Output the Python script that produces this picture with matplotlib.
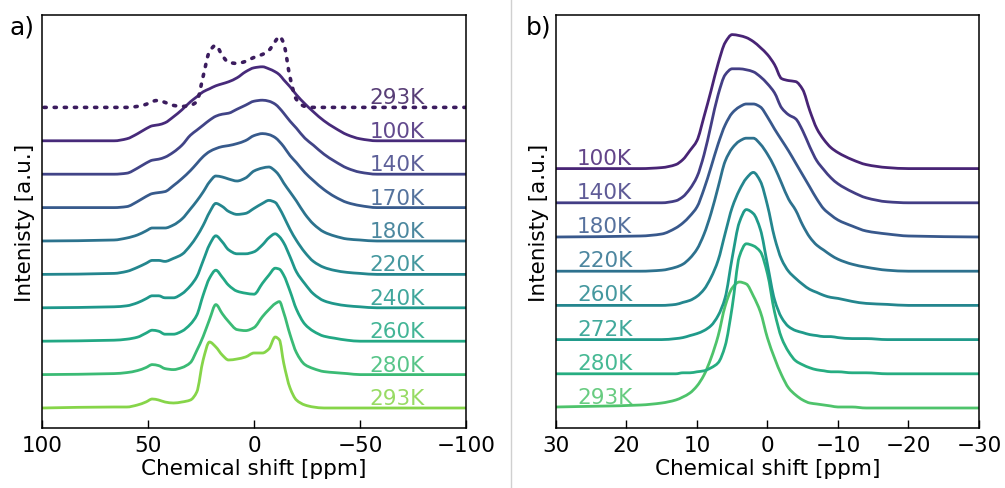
import matplotlib
matplotlib.use("Agg")

import matplotlib.pyplot as plt
from matplotlib.lines import Line2D
from matplotlib.path import Path
from matplotlib.patches import PathPatch
import numpy as np

# ------------------------------------------------------------------ data --
# panel a: chemical shift grid [ppm] and intensities (a.u.) read per spectrum
xa = [100, 66, 60, 55, 51, 48, 45, 42, 38, 34, 30, 27, 24, 21, 18, 15, 12, 8,
      4, 0, -4, -7, -10, -12, -14, -17, -20, -24, -28, -33, -38, -44, -50,
      -58, -68, -100]

a_ref_293K = [0, 0, 0, 1, 3, 6, 7, 5, 2, 1, 2, 6, 31, 56, 62, 52, 45, 44, 46,
              50, 53, 57, 66, 71, 64, 30, 8, 1, 0, 0, 0, 0, 0, 0, 0, 0]
a_100K = [0, 0, 2, 7, 12, 15, 16, 18, 24, 31, 39, 44, 49, 52, 55, 57, 59, 63,
          69, 73, 74, 72, 69, 66, 61, 54, 46, 37, 29, 20, 13, 6, 2, 0, 0, 0]
a_140K = [0, 0, 1, 6, 11, 14, 15, 17, 22, 29, 39, 44, 49, 54, 58, 60, 61, 65,
          69, 73, 74, 73, 70, 66, 61, 53, 46, 36, 29, 20, 13, 6, 2, 0, 0, 0]
a_170K = [0, 0, 1, 6, 11, 14, 15, 16, 22, 29, 37, 44, 51, 56, 59, 61, 62, 64,
          67, 72, 74, 73, 70, 66, 61, 52, 45, 35, 27, 18, 11, 5, 2, 0, 0, 0]
a_180K = [0, 1, 3, 6, 10, 13, 13, 13, 16, 22, 32, 40, 49, 59, 65, 64, 62, 60,
          63, 70, 73, 74, 70, 65, 58, 49, 40, 27, 17, 9, 5, 2, 1, 0, 0, 0]
a_220K = [0, 1, 3, 7, 11, 14, 14, 13, 16, 20, 29, 38, 49, 62, 71, 68, 63, 60,
          61, 66, 71, 74, 72, 66, 58, 45, 34, 22, 13, 7, 4, 2, 1, 0, 0, 0]
a_240K = [0, 1, 2, 5, 9, 12, 12, 10, 10, 14, 22, 31, 47, 63, 72, 66, 58, 54,
          54, 56, 63, 70, 74, 71, 65, 51, 36, 24, 14, 7, 4, 2, 1, 0, 0, 0]
a_260K = [0, 1, 2, 4, 8, 11, 10, 7, 7, 10, 17, 26, 46, 63, 71, 64, 56, 50,
          48, 47, 58, 66, 73, 72, 66, 50, 32, 17, 10, 5, 3, 1, 0, 0, 0, 0]
a_280K = [0, 1, 2, 4, 7, 10, 9, 6, 5, 7, 12, 24, 38, 55, 70, 61, 53, 45,
          44, 47, 58, 65, 71, 73, 62, 40, 22, 10, 6, 3, 2, 1, 0, 0, 0, 0]
a_293K = [0, 1, 1, 3, 6, 9, 8, 6, 5, 6, 8, 16, 48, 66, 61, 53, 48, 49,
          51, 55, 55, 59, 71, 68, 45, 20, 8, 3, 1, 0, 0, 0, 0, 0, 0, 0]

# bottom to top
a_labels = ["293K", "280K", "260K", "240K", "220K", "180K", "170K", "140K",
            "100K"]
a_spectra = [a_293K, a_280K, a_260K, a_240K, a_220K, a_180K, a_170K, a_140K,
             a_100K]

# panel b
xb = [30, 18, 15, 13, 12, 11, 10, 9, 8, 7, 6, 5, 4, 3, 2, 1, 0, -1, -2, -3,
      -4, -5, -6, -7, -8, -9, -10, -12, -14, -17, -20, -30]

b_100K = [0, 0, 1, 4, 9, 18, 28, 52, 78, 105, 126, 134, 133, 131, 127, 121,
          114, 104, 90, 88, 87, 79, 58, 40, 29, 21, 16, 9, 4, 1, 0, 0]
b_140K = [0, 0, 0, 2, 6, 14, 26, 48, 78, 108, 128, 134, 134, 133, 131, 126,
          119, 110, 95, 88, 84, 72, 56, 42, 33, 25, 19, 11, 5, 1, 0, 0]
b_180K = [0, 1, 3, 9, 14, 21, 30, 48, 70, 93, 112, 124, 130, 133, 133, 130,
          120, 108, 97, 86, 74, 62, 50, 38, 28, 22, 17, 11, 6, 3, 1, 0]
b_220K = [0, 0, 1, 4, 7, 13, 22, 37, 58, 84, 110, 123, 130, 133, 133, 127,
          117, 104, 88, 72, 61, 46, 34, 26, 21, 16, 12, 7, 4, 1, 0, 0]
b_260K = [0, 0, 0, 1, 3, 5, 9, 16, 28, 45, 72, 98, 115, 127, 133, 124,
          100, 68, 46, 34, 27, 21, 16, 13, 10, 8, 7, 4, 2, 1, 0, 0]
b_272K = [0, 0, 0, 1, 2, 4, 6, 9, 14, 24, 42, 82, 117, 130, 126, 110,
          75, 40, 22, 13, 9, 7, 5, 4, 3, 3, 2, 1, 1, 0, 0, 0]
b_280K = [0, 0, 0, 0, 1, 1, 2, 3, 6, 11, 28, 67, 117, 130, 128, 122,
          100, 62, 36, 22, 13, 9, 6, 4, 3, 2, 2, 1, 1, 0, 0, 0]
b_293K = [1, 3, 5, 8, 11, 15, 22, 33, 50, 72, 102, 120, 126, 124, 112, 96,
          70, 50, 33, 20, 13, 8, 5, 4, 3, 2, 1, 1, 0, 0, 0, 0]

b_labels = ["293K", "280K", "272K", "260K", "220K", "180K", "140K", "100K"]
b_spectra = [b_293K, b_280K, b_272K, b_260K, b_220K, b_180K, b_140K, b_100K]

# ---------------------------------------------------------------- styling --
FS = 15.5
LW = 2.0
STEP_A = 33.4   # vertical offset between stacked spectra
STEP_B = 34.2
YLIM = (-20, 393)

# viridis positions, bottom to top
cols_a = plt.cm.viridis([0.82, 0.68, 0.60, 0.53, 0.46, 0.38, 0.28, 0.20,
                         0.12])
cols_b = plt.cm.viridis([0.72, 0.62, 0.54, 0.46, 0.37, 0.27, 0.18, 0.10])
REF_COL = "#3b1c5e"


def smooth_path(x, y):
    """Cubic path through the read points (monotone Hermite tangents)."""
    x = np.asarray(x, float)
    y = np.asarray(y, float)
    o = np.argsort(x)
    x, y = x[o], y[o]
    h = np.diff(x)
    d = np.diff(y) / h
    m = np.zeros_like(y)
    m[0], m[-1] = d[0], d[-1]
    for k in range(1, len(x) - 1):
        if d[k - 1] * d[k] > 0:
            w1 = 2 * h[k] + h[k - 1]
            w2 = h[k] + 2 * h[k - 1]
            m[k] = (w1 + w2) / (w1 / d[k - 1] + w2 / d[k])
    verts = [(x[0], y[0])]
    codes = [Path.MOVETO]
    for k in range(len(x) - 1):
        verts += [(x[k] + h[k] / 3, y[k] + m[k] * h[k] / 3),
                  (x[k + 1] - h[k] / 3, y[k + 1] - m[k + 1] * h[k] / 3),
                  (x[k + 1], y[k + 1])]
        codes += [Path.CURVE4] * 3
    return Path(verts, codes)


def spectrum(ax, x, y, color, lw=LW, ls="-"):
    p = PathPatch(smooth_path(x, y), fill=False, edgecolor=color, lw=lw,
                  linestyle=ls, joinstyle="round")
    if ls != "-":
        p.set_capstyle("round")
    ax.add_patch(p)


def style_axes(ax, xlim, xticks):
    ax.set_xlim(*xlim)
    ax.set_ylim(*YLIM)
    ax.set_xticks(xticks)
    ax.tick_params(axis="x", direction="in", length=6, width=1.0,
                   labelsize=FS, pad=5, top=False)
    ax.tick_params(axis="y", left=False, labelleft=False)
    for sp in ax.spines.values():
        sp.set_linewidth(1.1)
    ax.set_xlabel("Chemical shift [ppm]", fontsize=FS, labelpad=2)
    ax.set_ylabel("Intenisty [a.u.]", fontsize=FS, labelpad=5)


fig = plt.figure(figsize=(10.05, 4.89), dpi=100)
fig.patch.set_facecolor("white")

# ---------------------------------------------------------------- panel a --
axa = fig.add_axes([0.0418, 0.1227, 0.4219, 0.8446])
for i, (lab, y) in enumerate(zip(a_labels, a_spectra)):
    off = i * STEP_A
    spectrum(axa, xa, np.array(y) + off, cols_a[i])
    axa.text(-54.5, off + 10, lab, color=cols_a[i], alpha=0.85, fontsize=FS,
             ha="left", va="center")

off = len(a_spectra) * STEP_A
spectrum(axa, xa, np.array(a_ref_293K) + off, REF_COL, lw=2.6,
         ls=(0, (0.6, 2.2)))
axa.text(-54.5, off + 10, "293K", color=REF_COL, alpha=0.85, fontsize=FS,
         ha="left", va="center")
style_axes(axa, (100, -100), [100, 50, 0, -50, -100])

# ---------------------------------------------------------------- panel b --
axb = fig.add_axes([0.5532, 0.1227, 0.4209, 0.8446])
for i, (lab, y) in enumerate(zip(b_labels, b_spectra)):
    off = i * STEP_B
    spectrum(axb, xb, np.array(y) + off, cols_b[i])
    axb.text(27.0, off + 11, lab, color=cols_b[i], alpha=0.85, fontsize=FS,
             ha="left", va="center")
style_axes(axb, (30, -30), [30, 20, 10, 0, -10, -20, -30])

# panel letters and divider
fig.text(0.009, 0.943, "a)", fontsize=18, ha="left", va="center")
fig.text(0.523, 0.943, "b)", fontsize=18, ha="left", va="center")
fig.add_artist(Line2D([0.508, 0.508], [0.0, 1.0], color="#d0d0d0", lw=1.0))

fig.savefig("out.png", dpi=100, facecolor="white")
